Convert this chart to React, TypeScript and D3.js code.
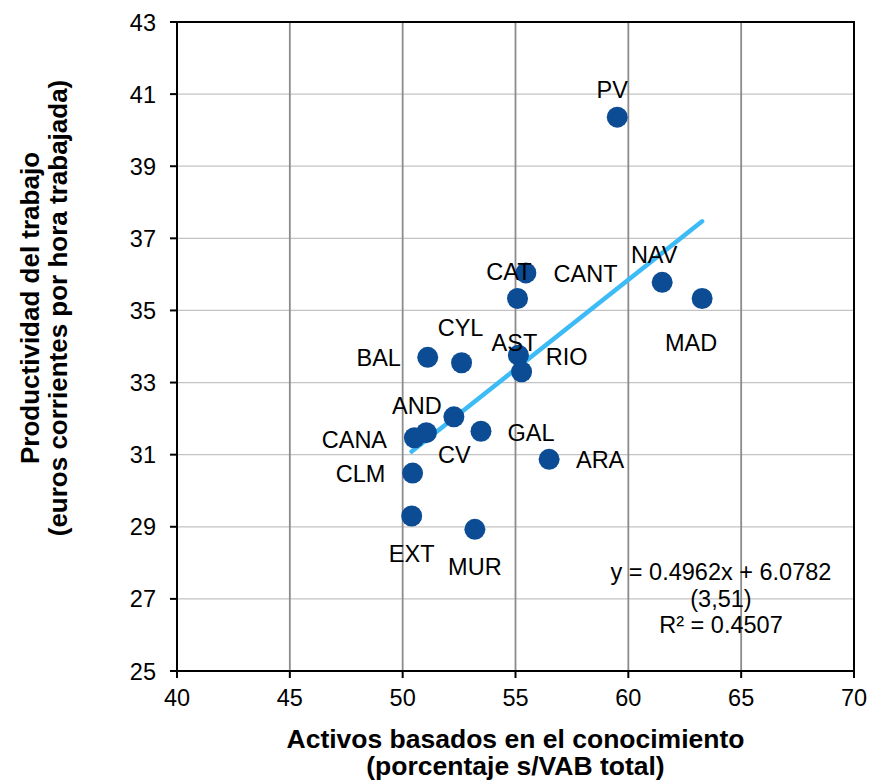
import React from 'react';
import * as d3 from 'd3';

// Regiones (etiquetas) y valores
const regions = ['PV', 'CAT', 'CANT', 'NAV', 'MAD', 'CYL', 'BAL', 'AST', 'RIO', 'AND', 'GAL', 'CANA', 'CV', 'ARA', 'CLM', 'EXT', 'MUR'];
const activos = [59.51, 55.46, 55.09, 61.5, 63.27, 52.61, 51.11, 55.13, 55.27, 52.27, 53.47, 50.52, 51.05, 56.49, 50.44, 50.4, 53.2];
const productividad = [40.36, 36.04, 35.33, 35.78, 35.33, 33.55, 33.7, 33.76, 33.3, 32.05, 31.65, 31.47, 31.61, 30.87, 30.49, 29.3, 28.93];

const xTicks = [40, 45, 50, 55, 60, 65, 70];
const yTicks = [25, 27, 29, 31, 33, 35, 37, 39, 41, 43];

// Recta de regresión (de la ecuación del gráfico)
const slope = 0.4962;
const intercept = 6.0782;
const eqLines = ['y = 0.4962x + 6.0782', '(3,51)', 'R² = 0.4507'];

// Desplazamiento de cada etiqueta respecto de su punto (px)
const labelOffset: Record<string, [number, number]> = {
  PV: [-5, -19], CAT: [-17, 7], CANT: [68, -17], NAV: [-8, -19], MAD: [-11, 52],
  CYL: [-1, -27], BAL: [-49, 9], AST: [-4, -4], RIO: [45, -7], AND: [-37, -3],
  GAL: [50, 10], CANA: [-60, 10], CV: [28, 30], ARA: [51, 9], CLM: [-52, 9],
  EXT: [0, 46], MUR: [0, 46],
};

const width = 880;
const height = 781;
const margin = { top: 22, right: 26, bottom: 110, left: 177 };
const font = '"Liberation Sans", Arial, sans-serif';
const fs = 23.5;
const titleFs = 26.5;

export default function App() {
  const x = d3.scaleLinear().domain([40, 70]).range([margin.left, width - margin.right]);
  const y = d3.scaleLinear().domain([25, 43]).range([height - margin.bottom, margin.top]);
  const x0 = margin.left, x1 = width - margin.right;
  const y0 = height - margin.bottom, y1 = margin.top;

  const xs = d3.extent(activos) as [number, number];
  const trend = d3.line<number>().x(d => x(d)).y(d => y(slope * d + intercept))(xs) || '';
  const cx = (x0 + x1) / 2;

  return (
    <svg width={width} height={height} style={{ position: 'absolute', left: 0, top: 0, background: '#fff' }} fontFamily={font}>
      {/* rejilla */}
      {yTicks.map(t => (
        <line key={'gy' + t} x1={x0} x2={x1} y1={y(t)} y2={y(t)} stroke="#c4c4c4" strokeWidth={1.2} />
      ))}
      {xTicks.map(t => (
        <line key={'gx' + t} x1={x(t)} x2={x(t)} y1={y1} y2={y0} stroke="#8c8c8c" strokeWidth={1.8} />
      ))}
      {/* marco */}
      <rect x={x0} y={y1} width={x1 - x0} height={y0 - y1} fill="none" stroke="#000" strokeWidth={2} />

      {/* ejes */}
      {yTicks.map(t => (
        <g key={'ty' + t}>
          <line x1={x0 - 7} x2={x0} y1={y(t)} y2={y(t)} stroke="#000" strokeWidth={2} />
          <text x={x0 - 21} y={y(t) + 8.5} textAnchor="end" fontSize={fs}>{t}</text>
        </g>
      ))}
      {xTicks.map(t => (
        <g key={'tx' + t}>
          <line x1={x(t)} x2={x(t)} y1={y0} y2={y0 + 7} stroke="#000" strokeWidth={2} />
          <text x={x(t)} y={y0 + 35} textAnchor="middle" fontSize={fs}>{t}</text>
        </g>
      ))}

      {/* títulos */}
      <text fontSize={titleFs} fontWeight="bold" textAnchor="middle">
        <tspan x={cx} y={747.5}>Activos basados en el conocimiento</tspan>
        <tspan x={cx} y={775}>(porcentaje s/VAB total)</tspan>
      </text>
      <text transform="translate(0,308) rotate(-90)" fontSize={26} fontWeight="bold" textAnchor="middle">
        <tspan x={0} y={39}>Productividad del trabajo</tspan>
        <tspan x={0} y={67}>(euros corrientes por hora trabajada)</tspan>
      </text>

      {/* línea de tendencia */}
      <path d={trend} stroke="#3dbbf7" strokeWidth={4.5} strokeLinecap="round" fill="none" />

      {/* puntos */}
      {regions.map((r, i) => (
        <circle key={r} cx={x(activos[i])} cy={y(productividad[i])} r={10.5} fill="#0b4c94" />
      ))}
      {regions.map((r, i) => {
        const [dx, dy] = labelOffset[r];
        return (
          <text key={'l' + r} x={x(activos[i]) + dx} y={y(productividad[i]) + dy} textAnchor="middle" fontSize={fs}>{r}</text>
        );
      })}

      {/* ecuación */}
      <text fontSize={fs} textAnchor="middle">
        {eqLines.map((l, i) => (
          <tspan key={l} x={721} y={580 + i * 26.5}>{l}</tspan>
        ))}
      </text>
    </svg>
  );
}
